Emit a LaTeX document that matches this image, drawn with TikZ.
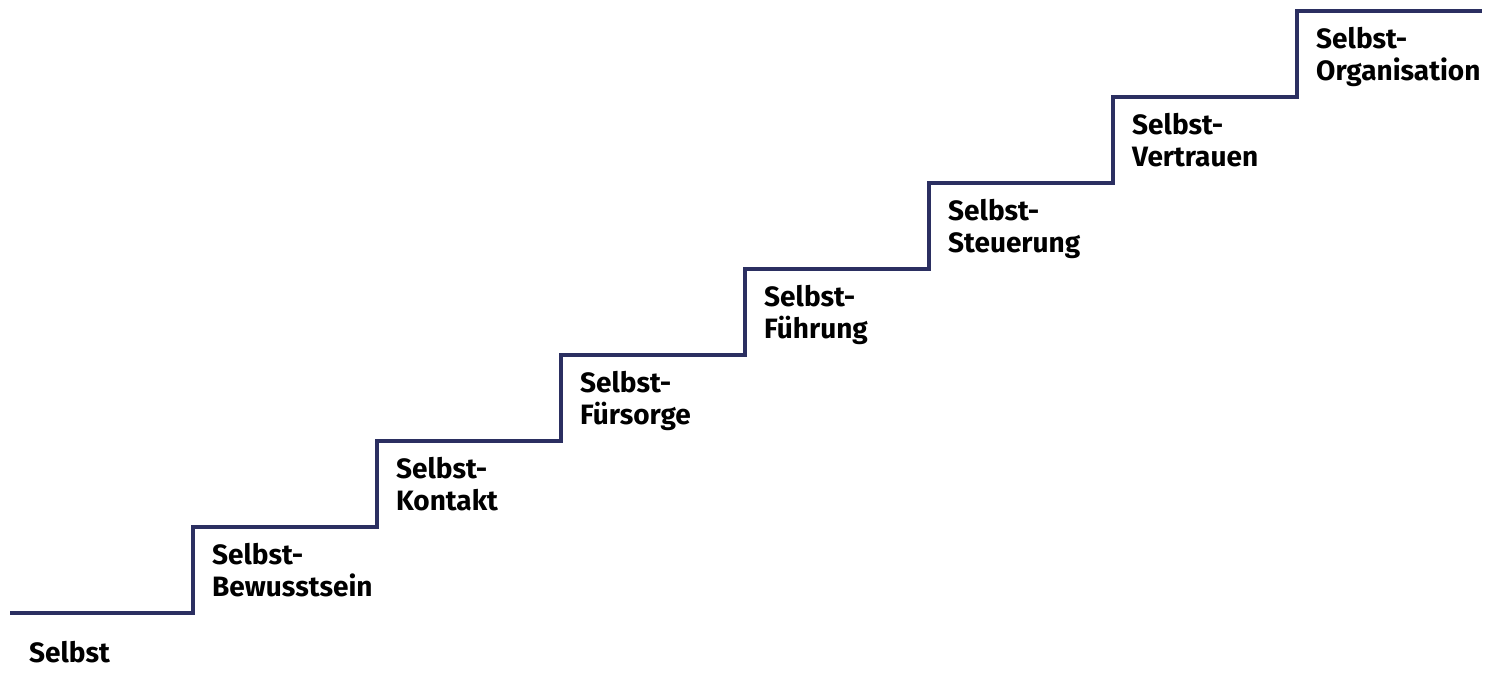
\documentclass[tikz,border=0pt]{standalone}
\usepackage{fontspec}
\setmainfont{Fira Sans}
\definecolor{stair}{HTML}{2B2F61}
\begin{document}
\begin{tikzpicture}[x=1pt,y=-1pt,
  stairline/.style={draw=stair,line width=4pt,line join=miter,line cap=butt},
  steplabel/.style={anchor=base west,inner sep=0pt,align=left,font=\fontsize{28}{32}\selectfont\bfseries,text=black}]
\useasboundingbox (0,0) rectangle (1495,673);
\coordinate (s0) at (10,613);
\foreach \i in {1,...,7}{
  \coordinate (a\i) at ({193+184*(\i-1)},{613-86*(\i-1)});
  \coordinate (b\i) at ({193+184*(\i-1)},{613-86*\i});
}
\coordinate (e) at (1482,11);
\draw[stairline] (s0) -- (a1) -- (b1) -- (a2) -- (b2) -- (a3) -- (b3) -- (a4) -- (b4) -- (a5) -- (b5) -- (a6) -- (b6) -- (a7) -- (b7) -- (e);
\node[steplabel] (l0) at (29,662) {Selbst};
\node[steplabel] (l1) at ([shift={(19,69)}]b1) {Selbst-\\Bewusstsein};
\node[steplabel] (l2) at ([shift={(19,69)}]b2) {Selbst-\\Kontakt};
\node[steplabel] (l3) at ([shift={(19,69)}]b3) {Selbst-\\Fürsorge};
\node[steplabel] (l4) at ([shift={(19,69)}]b4) {Selbst-\\Führung};
\node[steplabel] (l5) at ([shift={(19,69)}]b5) {Selbst-\\Steuerung};
\node[steplabel] (l6) at ([shift={(19,69)}]b6) {Selbst-\\Vertrauen};
\node[steplabel] (l7) at ([shift={(19,69)}]b7) {Selbst-\\Organisation};
\end{tikzpicture}
\end{document}
